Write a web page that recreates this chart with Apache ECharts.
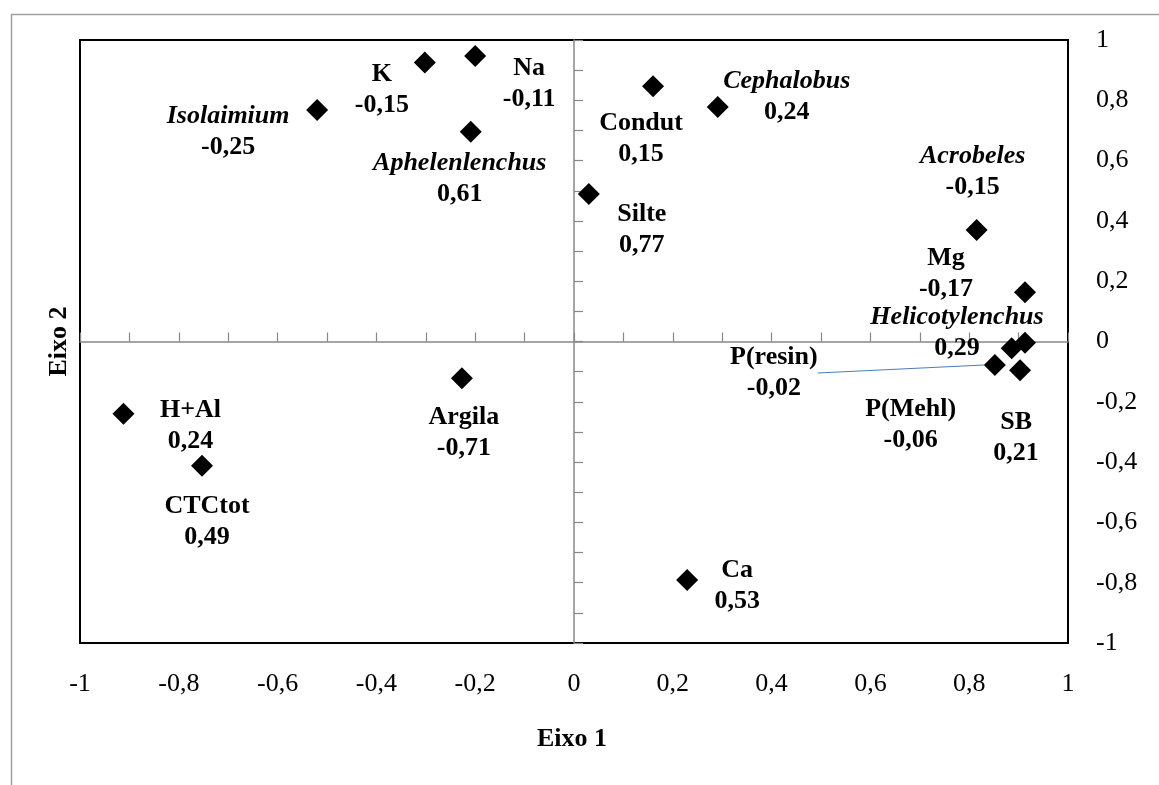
<!DOCTYPE html>
<html>
<head>
<meta charset="utf-8">
<script src="https://cdn.jsdelivr.net/npm/echarts@6/dist/echarts.min.js"></script>
<style>
html,body{margin:0;padding:0;background:#fff;overflow:hidden;}
#chart{width:1159px;height:785px;}
</style>
</head>
<body>
<div id="chart"></div>
<script>
// ---- data ----
const names = ['Isolaimium','K','Na','Aphelenlenchus','Condut','Cephalobus','Silte','Acrobeles','Mg',
  'Helicotylenchus','P(Mehl)','P(resin)','SB','H+Al','CTCtot','Argila','Ca'];
const eixo1 = [-0.520,-0.302,-0.200,-0.209,0.160,0.291,0.030,0.815,0.913,
  0.913,0.886,0.852,0.903,-0.912,-0.753,-0.227,0.229];
const eixo2 = [0.768,0.925,0.947,0.696,0.847,0.778,0.489,0.370,0.163,
  -0.004,-0.022,-0.078,-0.095,-0.240,-0.412,-0.122,-0.791];
const corr = [-0.25,-0.15,-0.11,0.61,0.15,0.24,0.77,-0.15,-0.17,
  0.29,-0.06,-0.02,0.21,0.24,0.49,-0.71,0.53];
const genera = ['Isolaimium','Aphelenlenchus','Cephalobus','Acrobeles','Helicotylenchus'];
const xTicks = [-1,-0.8,-0.6,-0.4,-0.2,0,0.2,0.4,0.6,0.8,1];
const yTicks = [-1,-0.8,-0.6,-0.4,-0.2,0,0.2,0.4,0.6,0.8,1];
const xTitle = 'Eixo 1';
const yTitle = 'Eixo 2';

// ---- styles (label placement, pixels) ----
const labelOffsets = {
  'Isolaimium':[-89,22],'K':[-43,27],'Na':[54,28],'Aphelenlenchus':[-11,47],'Condut':[-12,53],
  'Cephalobus':[69,-10],'Silte':[53,36],'Acrobeles':[-4,-58],'Mg':[-79,-19],
  'Helicotylenchus':[-68,-10],'P(Mehl)':[-101,77],'P(resin)':[-221,8],'SB':[-4,68],
  'H+Al':[67,12],'CTCtot':[5,56],'Argila':[2,54],'Ca':[50,6]
};
const leaderLines = ['P(resin)'];

const FONT = '"Liberation Serif","Times New Roman",serif';
const FS = 26;
const fmt = v => (Math.abs(v) === 1 || v === 0) ? String(v) : String(v).replace('.', ',');
const fmt2 = v => v.toFixed(2).replace('.', ',');

const data = names.map((n, i) => {
  const isG = genera.indexOf(n) >= 0;
  const item = {
    name: n,
    value: [eixo1[i], eixo2[i]],
    label: {
      offset: labelOffsets[n],
      formatter: (isG ? '{i|' + n + '}' : '{b|' + n + '}') + '\n{b|' + fmt2(corr[i]) + '}'
    }
  };
  if (leaderLines.indexOf(n) >= 0) {
    item.labelLine = {show: true, lineStyle: {color: '#4a7ebb', width: 1.2}};
  }
  return item;
});

const el = document.getElementById('chart');
const chart = echarts.init(el, null, {renderer: 'canvas'});
const W = chart.getWidth();
const H = chart.getHeight();
const grid = {left: 80, right: W - 1068, top: 40, bottom: H - 643, show: true, borderColor: '#000', borderWidth: 2, backgroundColor: 'transparent'};
chart.setOption({
  animation: false,
  backgroundColor: '#fff',
  graphic: [{
    type: 'rect', left: 9, top: 12, shape: {width: 1200, height: 820},
    style: {fill: 'none', stroke: '#a0a0a0', lineWidth: 1.5}, silent: true, z: -1
  }, {
    type: 'text', left: 537, top: 726,
    style: {text: xTitle, font: 'bold ' + FS + 'px ' + FONT, fill: '#000'}
  }],
  grid: grid,
  xAxis: [{
    type: 'value', min: xTicks[0], max: xTicks[xTicks.length - 1], interval: 0.2, position: 'bottom',
    axisLine: {show: false, onZero: false}, axisTick: {show: false}, splitLine: {show: false},
    axisLabel: {formatter: fmt, fontFamily: FONT, fontSize: FS, color: '#000', margin: 28}
  }, {
    type: 'value', min: -1, max: 1, interval: 0.1, position: 'bottom',
    axisLine: {show: true, onZero: true, lineStyle: {color: '#888', width: 1.5}},
    axisTick: {show: true, inside: true, length: 9, lineStyle: {color: '#888', width: 1.2}},
    axisLabel: {show: false}, splitLine: {show: false}
  }],
  yAxis: [{
    type: 'value', min: yTicks[0], max: yTicks[yTicks.length - 1], interval: 0.2, position: 'right',
    axisLine: {show: false, onZero: false}, axisTick: {show: false}, splitLine: {show: false},
    axisLabel: {formatter: fmt, fontFamily: FONT, fontSize: FS, color: '#000', margin: 28, align: 'left'}
  }, {
    type: 'value', min: -1, max: 1, interval: 0.1, position: 'left',
    name: yTitle, nameLocation: 'middle', nameGap: 8, nameRotate: 90,
    nameTextStyle: {fontFamily: FONT, fontSize: FS, fontWeight: 'bold', color: '#000'},
    axisLine: {show: true, onZero: true, lineStyle: {color: '#888', width: 1.5}},
    axisTick: {show: true, inside: true, length: 9, lineStyle: {color: '#888', width: 1.2}},
    axisLabel: {show: false}, splitLine: {show: false}
  }],
  series: [{
    type: 'scatter',
    xAxisIndex: 0, yAxisIndex: 0,
    symbol: 'diamond', symbolSize: 22,
    itemStyle: {color: '#000', opacity: 1},
    label: {
      show: true, position: 'inside', align: 'center', verticalAlign: 'middle',
      color: '#000', fontFamily: FONT, fontSize: FS, lineHeight: 31,
      rich: {
        b: {fontFamily: FONT, fontSize: FS, fontWeight: 'bold', color: '#000', lineHeight: 31},
        i: {fontFamily: FONT, fontSize: FS, fontWeight: 'bold', fontStyle: 'italic', color: '#000', lineHeight: 31}
      }
    },
    emphasis: {disabled: true},
    data: data
  }]
});
</script>
</body>
</html>
